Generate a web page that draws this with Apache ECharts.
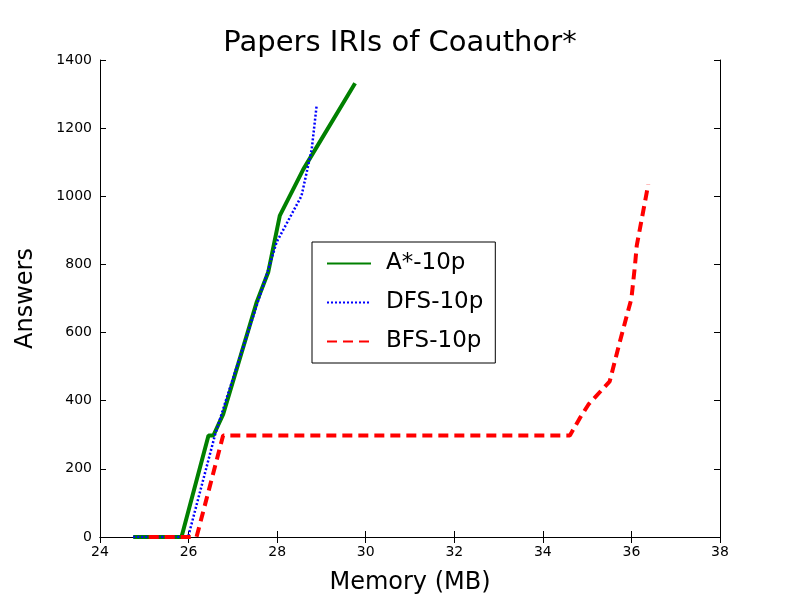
<!DOCTYPE html>
<html><head><meta charset="utf-8">
<script src="https://cdn.jsdelivr.net/npm/echarts@6/dist/echarts.min.js"></script>
</head><body style="margin:0">
<div id="c" style="width:800px;height:600px"></div>
<script>
var astar = [[24.75,0],[25.84,0],[26.45,298],[26.56,298],[26.78,360],[27.54,690],[27.80,778],[28.06,943],[28.59,1079],[29.76,1332]];
var dfs = [[24.75,0],[25.99,0],[26.6,301],[26.86,408],[27.76,768],[27.99,866],[28.55,1001],[28.78,1137],[28.89,1264]];
var bfs = [[25.1,0],[26.18,0],[26.78,298],[34.61,298],[34.84,350],[35.03,389],[35.51,457],[35.74,574],[36.0,700],[36.08,797],[36.12,855],[36.38,1035]];
var font = 'DejaVu Sans';
function ax(type, show, extra) {
  var o = {type: 'value', min: type == 'x' ? 24 : 0, max: type == 'x' ? 38 : 1400, interval: type == 'x' ? 2 : 200,
    axisLine: {show: true, lineStyle: {color: '#000', width: 1}},
    axisTick: {show: true, inside: true, length: 6, lineStyle: {color: '#000'}},
    axisLabel: {show: show, color: '#000', fontSize: 14, fontFamily: font, margin: 8, formatter: function(v) { return String(v); }},
    splitLine: {show: false}};
  for (var k in extra) o[k] = extra[k];
  return o;
}
var chart = echarts.init(document.getElementById('c'));
chart.setOption({
  animation: false,
  title: {text: 'Papers IRIs of Coauthor*', left: 'center', top: 24, textStyle: {fontSize: 29, fontWeight: 'normal', fontFamily: font, color: '#000'}},
  grid: {left: 100, right: 80, top: 60, bottom: 60},
  xAxis: [ax('x', true, {name: 'Memory (MB)', nameLocation: 'middle', nameGap: 34, nameTextStyle: {fontSize: 24, fontFamily: font, color: '#000'}}),
          ax('x', false, {position: 'top'})],
  yAxis: [ax('y', true, {name: 'Answers', nameLocation: 'middle', nameGap: 62, nameTextStyle: {fontSize: 24, fontFamily: font, color: '#000'}}),
          ax('y', false, {position: 'right'})],
  legend: {orient: 'vertical', left: 312, top: 242, padding: [10, 12, 10, 14], itemGap: 16,
    borderColor: '#000', borderWidth: 1, itemWidth: 44, itemHeight: 16,
    itemStyle: {opacity: 0},
    textStyle: {fontSize: 23, fontFamily: font, color: '#000', padding: [0, 0, 0, 10]},
    data: ['A*-10p', 'DFS-10p', 'BFS-10p']},
  series: [
    {name: 'A*-10p', type: 'line', data: astar, symbol: 'none', lineStyle: {color: '#008000', width: 4}, itemStyle: {color: '#008000'}},
    {name: 'DFS-10p', type: 'line', data: dfs, symbol: 'none', lineStyle: {color: '#0000ff', width: 2.5, type: [2, 2]}, itemStyle: {color: '#0000ff'}},
    {name: 'BFS-10p', type: 'line', data: bfs, symbol: 'none', lineStyle: {color: '#ff0000', width: 4, type: [10, 6]}, itemStyle: {color: '#ff0000'}}
  ]
});
</script>
</body></html>
